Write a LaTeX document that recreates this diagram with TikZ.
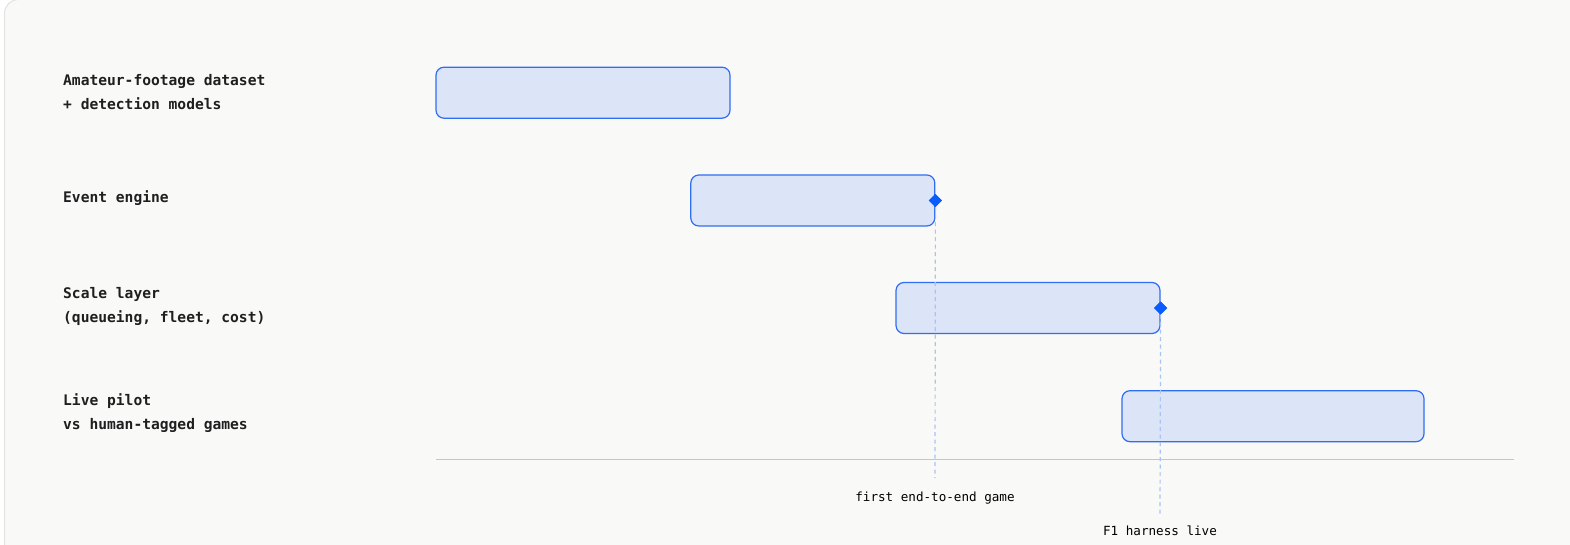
\documentclass[tikz,border=0pt]{standalone}
\usepackage{fontspec}
\setmonofont{DejaVu Sans Mono}
\usetikzlibrary{shapes.geometric}
\definecolor{panelbg}{HTML}{F9F9F7}
\definecolor{panelline}{HTML}{E2E2DF}
\definecolor{barfill}{HTML}{DCE5F8}
\definecolor{barline}{HTML}{2F6DF2}
\definecolor{mileblue}{HTML}{0B5CFF}
\definecolor{dashblue}{HTML}{A8C4F4}
\definecolor{axisgray}{HTML}{C6C6C4}
\tikzset{
  rowlabel/.style={anchor=west, align=left, inner sep=0pt, font=\ttfamily\bfseries\fontsize{14.6bp}{24bp}\selectfont, text=black!88},
  bar/.style={draw=barline, fill=barfill, line width=1.2bp, rounded corners=8bp, minimum height=51bp, inner sep=0pt},
  milestone/.style={diamond, fill=mileblue, minimum size=13bp, inner sep=0pt},
  guide/.style={draw=dashblue, line width=1.2bp, dash pattern=on 4bp off 3.5bp},
  milelabel/.style={inner sep=0pt, font=\ttfamily\fontsize{12.6bp}{15bp}\selectfont, text=black},
}
\begin{document}
\begin{tikzpicture}[x=1bp,y=-1bp]
\useasboundingbox (0,0) rectangle (1570,545);
\fill[white] (0,0) rectangle (1570,545);
\draw[panelline, fill=panelbg, line width=1bp, rounded corners=14bp] (4.5,-0.5) rectangle (1590,570);

% row labels
\node[rowlabel] (l1) at (63,92) {Amateur-footage dataset\\+ detection models};
\node[rowlabel] (l2) at (63,198) {Event engine};
\node[rowlabel] (l3) at (63,306) {Scale layer\\(queueing, fleet, cost)};
\node[rowlabel] (l4) at (63,413) {Live pilot\\vs human-tagged games};

% axis
\coordinate (axL) at (436,459.3);
\coordinate (axR) at (1514,459.3);
\draw[axisgray, line width=1bp] (axL) -- (axR);

% guides
\coordinate (g1) at (935,478);
\coordinate (g2) at (1160,516);

% bars
\node[bar, minimum width=294bp] (b1) at (583,92.7) {};
\node[bar, minimum width=244bp] (b2) at (812.8,200.5) {};
\node[bar, minimum width=264bp] (b3) at (1028,308) {};
\node[bar, minimum width=302bp] (b4) at (1273,416.2) {};

% milestones
\node[milestone] (m1) at (b2.east) {};
\node[milestone] (m2) at (b3.east) {};
\draw[guide] (m1.south) -- (g1);
\draw[guide] (m2.south) -- (g2);
\node[milestone] at (b2.east) {};
\node[milestone] at (b3.east) {};

\node[milelabel] (t1) at (935,498) {first end-to-end game};
\node[milelabel] (t2) at (1160,531) {F1 harness live};
\end{tikzpicture}
\end{document}
